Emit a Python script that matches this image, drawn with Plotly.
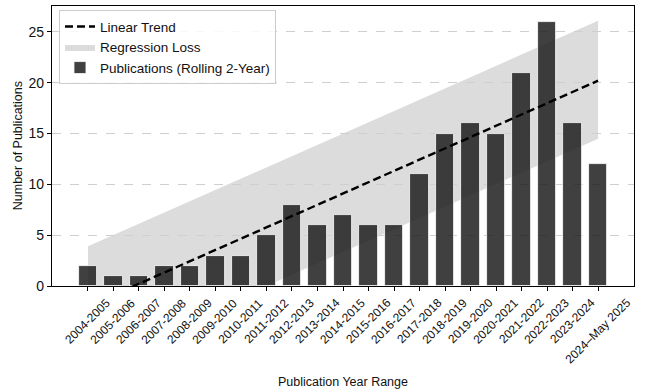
import plotly.graph_objects as go

# ---- data ----
year_ranges = ["2004-2005", "2005-2006", "2006-2007", "2007-2008", "2008-2009",
               "2009-2010", "2010-2011", "2011-2012", "2012-2013", "2013-2014",
               "2014-2015", "2015-2016", "2016-2017", "2017-2018", "2018-2019",
               "2019-2020", "2020-2021", "2021-2022", "2022-2023", "2023-2024",
               "2024\u2013May 2025"]
publications = [2, 1, 1, 2, 2, 3, 3, 5, 8, 6, 7, 6, 6, 11, 15, 16, 15, 21, 26, 16, 12]

# trend line / loss band endpoints (at first and last category)
trend_ends = [-2.0, 20.2]
band_upper_ends = [3.9, 26.1]
band_lower_ends = [-7.8, 14.5]

y_ticks = [0, 5, 10, 15, 20, 25]

FONT = "Liberation Sans, Arial, sans-serif"

idx = list(range(len(year_ranges)))
x_ends = [idx[0], idx[-1]]

fig = go.Figure()

# Linear trend
fig.add_trace(go.Scatter(
    x=x_ends, y=trend_ends, mode="lines", name="Linear Trend",
    line=dict(color="black", width=2.4, dash="8px,4px"),
))
# Legend proxy for the band
fig.add_trace(go.Scatter(
    x=[None], y=[None], mode="lines", name="Regression Loss",
    fill="toself", fillcolor="#dcdcdc", line=dict(width=0, color="#dcdcdc"),
))
# Bars
fig.add_trace(go.Bar(
    x=idx, y=publications, name="Publications (Rolling 2-Year)",
    width=0.72,
    marker=dict(color="rgba(30,30,30,0.85)", line=dict(color="white", width=0.8)),
))

# Regression loss band (drawn below traces)
path = (f"M {x_ends[0]},{band_lower_ends[0]} L {x_ends[1]},{band_lower_ends[1]} "
        f"L {x_ends[1]},{band_upper_ends[1]} L {x_ends[0]},{band_upper_ends[0]} Z")
fig.add_shape(type="path", path=path, xref="x", yref="y", layer="below",
              fillcolor="#dcdcdc", line=dict(width=0))

# Rotated category labels centred under each bar
for i, lab in zip(idx, year_ranges):
    fig.add_annotation(x=i, y=0, xref="x", yref="y", text=lab, textangle=-45,
                       showarrow=False, xanchor="center", yanchor="top",
                       yshift=-7, font=dict(family=FONT, size=12, color="#111"))

# Axis titles
fig.add_annotation(x=0.5, y=-0.343, xref="paper", yref="paper",
                   text="Publication Year Range", showarrow=False,
                   xanchor="center", yanchor="middle",
                   font=dict(family=FONT, size=12.5, color="#111"))
fig.add_annotation(x=-0.058, y=0.5, xref="paper", yref="paper",
                   text="Number of Publications", showarrow=False, textangle=-90,
                   xanchor="center", yanchor="middle",
                   font=dict(family=FONT, size=12.5, color="#111"))

fig.update_layout(
    width=646, height=392,
    margin=dict(l=52, r=12, t=6, b=106),
    paper_bgcolor="white", plot_bgcolor="white",
    font=dict(family=FONT, size=13, color="#111"),
    bargap=0,
    showlegend=True,
    legend=dict(x=0.012, y=0.985, xanchor="left", yanchor="top",
                bgcolor="rgba(255,255,255,0.85)", bordercolor="#cccccc",
                borderwidth=1, font=dict(family=FONT, size=13.5, color="#111"),
                tracegroupgap=0, itemwidth=30),
)
fig.update_xaxes(
    range=[-1.41, 21.41], tickmode="array", tickvals=idx, showticklabels=False,
    ticks="outside", ticklen=4, tickcolor="black",
    showline=True, linecolor="black", linewidth=1.2, mirror=True,
    showgrid=False, zeroline=False,
)
fig.update_yaxes(
    range=[0, 27.55], tickmode="array", tickvals=y_ticks,
    ticks="outside", ticklen=4, tickcolor="black",
    tickfont=dict(family=FONT, size=14, color="#111"),
    showline=True, linecolor="black", linewidth=1.2, mirror=True,
    showgrid=True, gridcolor="#cfcfcf", gridwidth=0.8, griddash="dash",
    zeroline=False,
)

fig.write_html("out.html")
